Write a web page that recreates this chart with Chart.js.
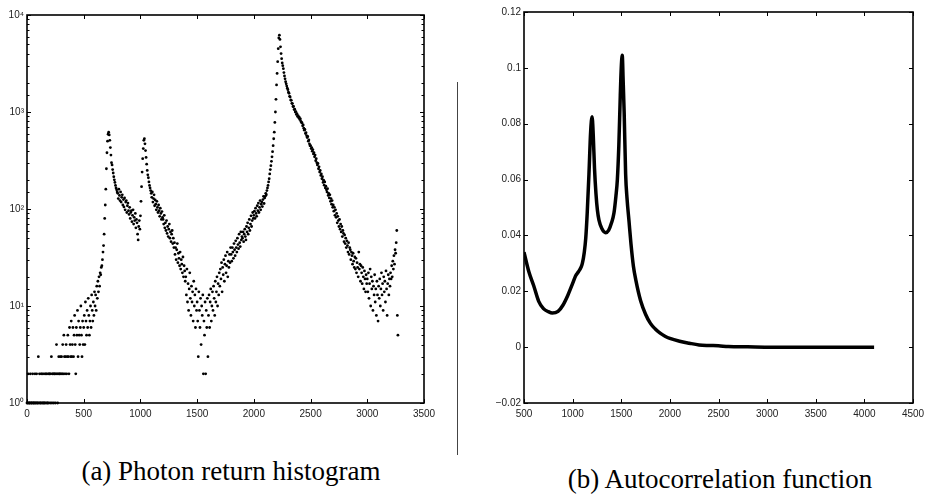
<!DOCTYPE html>
<html>
<head>
<meta charset="utf-8">
<script src="https://cdn.jsdelivr.net/npm/chart.js@4.4.1/dist/chart.umd.min.js"></script>
<style>
  html, body { margin: 0; padding: 0; background: #fff; }
  #page { position: relative; width: 933px; height: 494px; overflow: hidden; }
  canvas { position: absolute; top: 0; }
  #histogram-canvas { left: 0; }
  #acf-canvas { left: 470px; }
  .sep { position: absolute; left: 457px; top: 82px; width: 1px; height: 373px; background: #444; }
  .caption {
    position: absolute; width: 400px; text-align: center;
    font-family: "Liberation Serif", "Times New Roman", serif;
    font-size: 27px; line-height: 30px; color: #000; white-space: nowrap;
  }
</style>
</head>
<body>
<div id="page">
  <canvas id="histogram-canvas" width="460" height="430"></canvas>
  <canvas id="acf-canvas" width="463" height="430"></canvas>
  <div class="sep"></div>
  <div class="caption" style="left:31px; top:456px;">(a) Photon return histogram</div>
  <div class="caption" style="left:520px; top:464px;">(b) Autocorrelation function</div>
</div>
<script>
/* (a) photon counts per bin, one value every HIST_BIN_STEP time units starting at 0 */
const HIST_BIN_STEP = 5;
const HIST_COUNTS = [
  /* 0    */ 1,1,2,1,1,1,2,1,1,1,2,1,1,1,2,1,1,2,1,1,
  /* 100  */ 3,1,2,1,1,2,1,2,1,1,2,1,1,2,2,1,1,2,1,2,
  /* 200  */ 2,1,2,3,1,2,2,1,2,2,1,2,4,2,1,2,3,2,2,3,
  /* 300  */ 2,3,2,4,2,5,3,2,3,4,2,3,5,3,2,6,4,3,7,3,
  /* 400  */ 4,6,3,5,8,4,2,6,5,9,3,7,5,4,6,10,5,3,7,4,
  /* 500  */ 6,8,4,11,7,5,9,6,12,8,5,7,10,6,13,9,7,11,8,14,
  /* 600  */ 10,13,9,16,12,18,14,20,16,22,21,25,26,30,36,42,55,80,110,160,
  /* 700  */ 260,380,500,590,620,580,510,430,360,300,285,255,235,215,200,188,175,165,158,150,
  /* 800  */ 145,128,160,138,122,150,118,132,140,110,125,105,130,98,118,122,92,108,115,96,
  /* 900  */ 88,104,80,92,96,74,86,98,70,82,76,90,64,78,72,55,48,66,76,62,
  /* 1000 */ 85,120,170,240,330,420,510,530,470,400,340,290,250,225,210,190,175,165,155,145,
  /* 1100 */ 132,150,118,128,140,108,124,112,98,120,104,92,110,96,84,102,90,78,94,82,
  /* 1200 */ 78,70,86,64,72,60,76,56,66,52,62,70,50,58,46,55,60,44,50,40,
  /* 1300 */ 45,34,40,30,38,44,28,35,31,26,36,24,30,27,22,32,20,26,23,18,
  /* 1400 */ 20,13,24,11,17,9,15,22,12,8,16,11,14,7,18,10,13,6,15,9,
  /* 1500 */ 11,7,3,14,9,6,12,4,10,8,13,2,7,5,11,2,9,6,12,3,
  /* 1600 */ 8,13,6,11,15,7,10,14,9,16,12,8,18,11,14,20,10,17,13,22,
  /* 1700 */ 16,24,19,28,14,25,21,30,18,27,33,22,26,36,20,29,25,34,28,40,
  /* 1800 */ 34,29,40,36,31,44,38,33,47,40,36,50,43,39,55,45,41,58,48,52,
  /* 1900 */ 50,58,46,55,62,52,48,66,58,72,55,64,78,60,70,85,66,76,92,80,
  /* 2000 */ 86,95,80,102,90,84,108,96,115,92,104,122,98,112,118,106,125,135,114,130,
  /* 2100 */ 135,145,140,155,165,175,190,205,230,255,280,310,345,390,450,530,620,780,1000,1350,
  /* 2200 */ 1900,2500,3300,4500,5800,6200,5600,4700,4000,3550,3200,3000,2800,2550,2350,2200,2050,1950,1850,1760,
  /* 2300 */ 1700,1600,1560,1450,1430,1330,1320,1230,1220,1140,1140,1060,1070,1000,1010,945,960,900,915,870,
  /* 2400 */ 885,835,850,800,780,770,720,735,680,650,660,600,612,570,545,560,500,515,470,450,
  /* 2500 */ 450,420,430,395,410,370,380,345,360,315,330,300,285,295,260,272,240,250,222,230,
  /* 2600 */ 205,215,188,198,176,190,165,172,158,150,162,138,145,130,140,120,128,112,122,104,
  /* 2700 */ 110,95,104,86,98,82,90,72,84,76,66,78,62,70,58,66,52,60,56,46,
  /* 2800 */ 54,44,50,40,47,42,36,45,34,40,38,30,36,33,27,35,29,25,32,24,
  /* 2900 */ 31,22,28,25,20,36,24,27,18,26,22,17,25,20,15,23,19,14,21,17,
  /* 3000 */ 19,14,22,12,17,24,10,20,15,18,9,16,13,21,11,15,8,18,13,7,
  /* 3100 */ 16,12,19,10,15,22,13,17,9,20,14,18,11,23,15,8,17,21,13,19,
  /* 3200 */ 16,22,19,26,20,29,24,33,27,38,35,45,60,8,5
];
const HIST_X_TICKS = [0, 500, 1000, 1500, 2000, 2500, 3000, 3500];
const HIST_Y_DECADES = [1, 10, 100, 1000, 10000];

/* (b) autocorrelation */
const ACF_LAG = [
  500, 550, 600, 650, 700, 750, 790, 850, 900, 950, 1000, 1030, 1060, 1085,
  1100, 1120, 1135, 1150, 1168, 1185, 1200, 1212, 1225, 1240, 1255, 1271,
  1300, 1340, 1370, 1400, 1425, 1445, 1460, 1475, 1490, 1500, 1510, 1520,
  1530, 1545, 1560, 1580, 1600, 1625, 1650, 1700, 1750, 1800, 1850, 1900,
  1950, 2000, 2100, 2200, 2300, 2400, 2500, 2600, 2800, 3000, 3500, 4100
];
const ACF_VALUE = [
  0.034, 0.027, 0.022, 0.0165, 0.0138, 0.0127, 0.0122, 0.0128, 0.015, 0.0185, 0.0228, 0.0255, 0.027, 0.0285,
  0.030, 0.034, 0.039, 0.048, 0.062, 0.077, 0.0825, 0.076, 0.064, 0.055, 0.049, 0.0455,
  0.0425, 0.041, 0.0418, 0.0445, 0.048, 0.054, 0.060, 0.072, 0.090, 0.100, 0.1045, 0.095,
  0.084, 0.062, 0.053, 0.045, 0.037, 0.029, 0.024, 0.0165, 0.0118, 0.0085, 0.0065, 0.005,
  0.0039, 0.0031, 0.0021, 0.0014, 0.0008, 0.0006, 0.0005, 0.0002, 0.0001, 0, 0, 0
];
const ACF_X_TICKS = [500, 1000, 1500, 2000, 2500, 3000, 3500, 4000, 4500];
const ACF_Y_TICKS = [-0.02, 0, 0.02, 0.04, 0.06, 0.08, 0.1, 0.12];

const TICK_FONT = { family: "'Liberation Sans Narrow', 'Liberation Sans', Arial, sans-serif", size: 10 };
const TICK_COLOR = "#222";
const SUP = ["\u2070", "\u00b9", "\u00b2", "\u00b3", "\u2074"];

// MATLAB-like box: frame plus inward ticks on all four sides
const boxTicks = {
  id: "boxTicks",
  afterDraw(chart) {
    const ctx = chart.ctx;
    const a = chart.chartArea;
    const xs = chart.scales.x;
    const ys = chart.scales.y;
    ctx.save();
    ctx.strokeStyle = "#000";
    ctx.lineWidth = 1;
    ctx.beginPath();
    xs.ticks.forEach(function (t) {
      const px = Math.round(xs.getPixelForValue(t.value)) + 0.5;
      ctx.moveTo(px, a.bottom); ctx.lineTo(px, a.bottom - 4);
      ctx.moveTo(px, a.top); ctx.lineTo(px, a.top + 4);
    });
    ys.ticks.forEach(function (t) {
      const py = Math.round(ys.getPixelForValue(t.value)) + 0.5;
      const len = t.label === "" ? 2.5 : 4;
      ctx.moveTo(a.left, py); ctx.lineTo(a.left + len, py);
      ctx.moveTo(a.right, py); ctx.lineTo(a.right - len, py);
    });
    ctx.stroke();
    ctx.lineWidth = 1.6;
    ctx.strokeRect(a.left, a.top, a.right - a.left, a.bottom - a.top);
    ctx.restore();
  }
};

function plainNumber(v) {
  return String(v);
}

function run() {
  const histPoints = HIST_COUNTS.map(function (c, i) {
    return { x: i * HIST_BIN_STEP, y: c };
  });

  new Chart(document.getElementById("histogram-canvas"), {
    type: "scatter",
    data: {
      datasets: [{
        data: histPoints,
        backgroundColor: "#000",
        borderWidth: 0,
        pointRadius: 1.4,
        clip: 4
      }]
    },
    options: {
      responsive: false,
      animation: false,
      layout: { padding: { left: 0, top: 15, right: 36, bottom: 0 } },
      plugins: { legend: { display: false }, tooltip: { enabled: false } },
      scales: {
        x: {
          type: "linear",
          min: HIST_X_TICKS[0],
          max: HIST_X_TICKS[HIST_X_TICKS.length - 1],
          grid: { display: false, drawTicks: false },
          border: { display: false },
          afterBuildTicks: function (s) {
            s.ticks = HIST_X_TICKS.map(function (v) { return { value: v }; });
          },
          ticks: { padding: 5, maxRotation: 0, autoSkip: false, font: TICK_FONT, color: TICK_COLOR, callback: plainNumber },
          afterFit: function (s) { s.height = 27; }
        },
        y: {
          type: "logarithmic",
          min: HIST_Y_DECADES[0],
          max: HIST_Y_DECADES[HIST_Y_DECADES.length - 1],
          grid: { display: false, drawTicks: false },
          border: { display: false },
          ticks: {
            autoSkip: false,
            padding: 3,
            font: TICK_FONT,
            color: TICK_COLOR,
            callback: function (v) {
              const k = HIST_Y_DECADES.indexOf(v);
              return k >= 0 ? "10" + SUP[k] : "";
            }
          },
          afterFit: function (s) { s.width = 27; }
        }
      }
    },
    plugins: [boxTicks]
  });

  new Chart(document.getElementById("acf-canvas"), {
    type: "line",
    data: {
      datasets: [{
        data: ACF_LAG.map(function (x, i) { return { x: x, y: ACF_VALUE[i] }; }),
        borderColor: "#000",
        borderWidth: 3.5,
        pointRadius: 0,
        cubicInterpolationMode: "monotone",
        fill: false
      }]
    },
    options: {
      responsive: false,
      animation: false,
      layout: { padding: { left: 0, top: 12, right: 20, bottom: 0 } },
      plugins: { legend: { display: false }, tooltip: { enabled: false } },
      scales: {
        x: {
          type: "linear",
          min: ACF_X_TICKS[0],
          max: ACF_X_TICKS[ACF_X_TICKS.length - 1],
          grid: { display: false, drawTicks: false },
          border: { display: false },
          afterBuildTicks: function (s) {
            s.ticks = ACF_X_TICKS.map(function (v) { return { value: v }; });
          },
          ticks: { padding: 5, maxRotation: 0, autoSkip: false, font: TICK_FONT, color: TICK_COLOR, callback: plainNumber },
          afterFit: function (s) { s.height = 27; }
        },
        y: {
          type: "linear",
          min: ACF_Y_TICKS[0],
          max: ACF_Y_TICKS[ACF_Y_TICKS.length - 1],
          grid: { display: false, drawTicks: false },
          border: { display: false },
          afterBuildTicks: function (s) {
            s.ticks = ACF_Y_TICKS.map(function (v) { return { value: v }; });
          },
          ticks: {
            autoSkip: false,
            padding: 3,
            font: TICK_FONT,
            color: TICK_COLOR,
            callback: function (v) {
              const r = Math.round(v * 100) / 100;
              if (r === 0) return "0";
              return (r < 0 ? "\u2212" : "") + String(Math.abs(r));
            }
          },
          afterFit: function (s) { s.width = 54; }
        }
      }
    },
    plugins: [boxTicks]
  });
}

if (document.readyState === "loading") {
  document.addEventListener("DOMContentLoaded", run);
} else {
  run();
}
</script>
</body>
</html>
